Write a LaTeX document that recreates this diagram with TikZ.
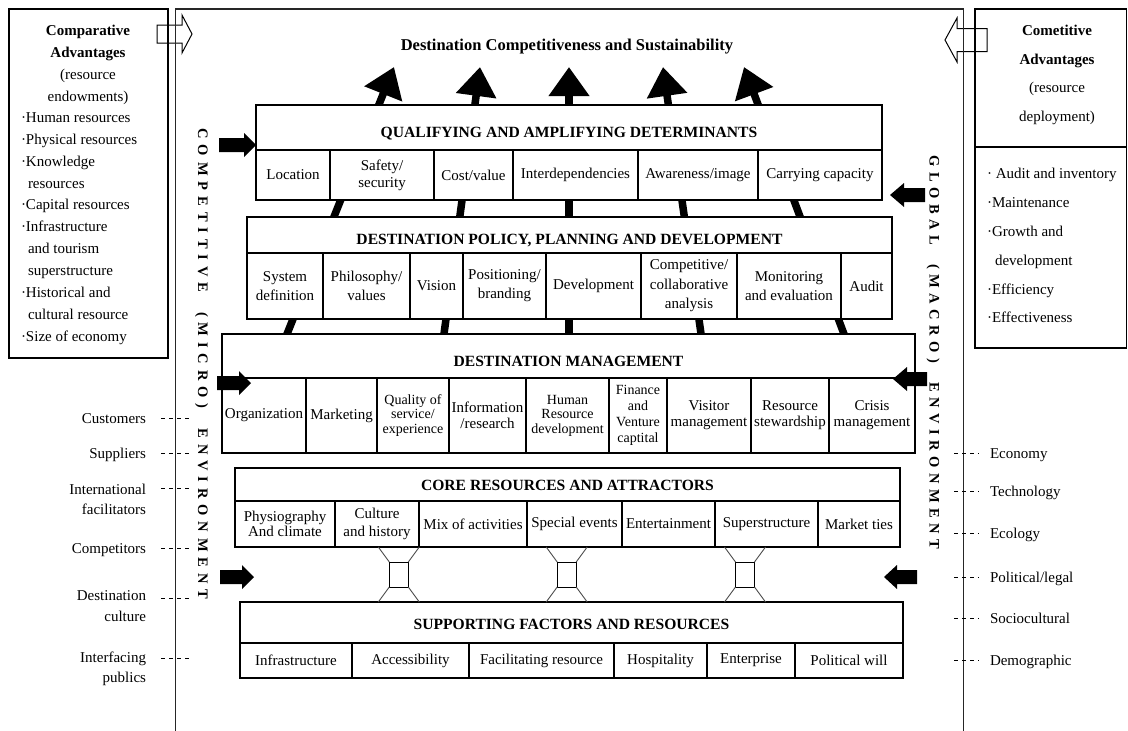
\documentclass[tikz,border=0pt]{standalone}
\usepackage{fontspec}
\setmainfont{Liberation Serif}
\usetikzlibrary{arrows.meta}
\makeatletter
% spreads a word letter by letter with a fixed kern between the letters
\newcommand\spreadletters[2]{\@tfor\sl@tok:=#2\do{\sl@tok\kern#1\relax}\unkern}
\makeatother
% one cell of a band: [extra style]{name}{x1}{x2}{y1}{y2}{text}
\newcommand\cellnode[7][]{%
  \node[cellbox,#1,minimum width={(#4)-(#3)},minimum height={(#6)-(#5)}]
    (#2) at ({((#3)+(#4))/2},{((#5)+(#6))/2}) {#7};}
% block arrow: {tip x}{tip y}{direction +1/-1}{length}{head length}{shaft half width}{head half width}{style}
\newcommand\blockarrow[8]{%
  \path[#8] (#1,#2) -- ++({0-(#3)*(#5)},{0-(#7)}) -- ++(0,{(#7)-(#6)})
    -- ++({0-(#3)*((#4)-(#5))},0) -- ++(0,{2*(#6)})
    -- ++({(#3)*((#4)-(#5))},0) -- ++(0,{(#7)-(#6)}) -- cycle;}

\begin{document}
\begin{tikzpicture}[x=1pt,y=-1pt,
  every node/.style={inner sep=0pt, outer sep=0pt},
  txt/.style={font=\fontsize{15}{18}\selectfont},
  cellbox/.style={draw, line width=1.1pt, fill=white, align=center,
    font=\fontsize{15}{17}\selectfont},
  bandtitle/.style={draw, line width=1.1pt, fill=white, text depth=0pt,
    font=\bfseries\fontsize{15.6}{18}\selectfont},
  sidebox/.style={draw, line width=1.1pt},
  framerule/.style={line width=1.5pt, draw=black!85},
  upshaft/.style={line width=7.5pt, -{Triangle[length=29pt,width=39pt]}},
  tick/.style={line width=0.9pt, dash pattern=on 4pt off 4pt},
  vtext/.style={rotate=-90, font=\bfseries\fontsize{14.5}{16}\selectfont},
  hourglass/.style={draw, line width=1pt, fill=white, minimum width=19pt, minimum height=25pt},
  flare/.style={line width=0.9pt, draw=black!70},
]
\useasboundingbox (0,0) rectangle (1128,731);

% hollow arrows from the advantage boxes into the model
\blockarrow{192}{34}{1}{35}{10}{9}{19}{draw=black, fill=white, line width=1pt}
\blockarrow{945}{40}{-1}{42}{12}{11.5}{22}{draw=black, fill=white, line width=1pt}

% environment frame
\draw[framerule] (175.5,731) -- (175.5,9) -- (963.5,9) -- (963.5,731);

% comparative advantages
\node[sidebox, minimum width=159, minimum height=349] (compadv) at (88.5,183.5) {};
\node[align=center, anchor=north, font=\fontsize{15}{21.8}\selectfont] (comphead) at (88,25.5)
  {\textbf{Comparative}\\\textbf{Advantages}\\(resource\\endowments)};
\node[align=left, anchor=north west, font=\fontsize{15}{21.9}\selectfont] (complist) at (21,112.5)
  {·Human resources\\·Physical resources\\·Knowledge\\\hspace*{7pt}resources\\·Capital resources\\%
   ·Infrastructure\\\hspace*{7pt}and tourism\\\hspace*{7pt}superstructure\\·Historical and\\%
   \hspace*{7pt}cultural resource\\·Size of economy};

% competitive advantages
\node[sidebox, minimum width=151.5, minimum height=138] (cometop) at (1050.75,78) {};
\node[sidebox, minimum width=151.5, minimum height=201] (comebot) at (1050.75,247.5) {};
\node[align=center, anchor=north, font=\fontsize{15}{28.4}\selectfont] (comehead) at (1057,25.5)
  {\textbf{Cometitive}\\\textbf{Advantages}\\(resource\\deployment)};
\node[align=left, anchor=north west, font=\fontsize{15}{28.8}\selectfont] (comelist) at (987,168.5)
  {· Audit and inventory\\·Maintenance\\·Growth and\\\hspace*{8pt}development\\·Efficiency\\·Effectiveness};

% goal
\node[font=\bfseries\fontsize{16.5}{18}\selectfont] (goal) at (567,47)
  {Destination Competitiveness and Sustainability};

% thick arrows rising through the model
\coordinate (r1) at (282.6,345); \coordinate (t1) at (394,67);
\coordinate (r2) at (442.5,345); \coordinate (t2) at (480,67);
\coordinate (r3) at (569,345);   \coordinate (t3) at (569,67);
\coordinate (r4) at (702.6,345); \coordinate (t4) at (663,67);
\coordinate (r5) at (848.1,345); \coordinate (t5) at (744,67);
\foreach \k in {1,...,5} \draw[upshaft] (r\k) -- (t\k);

% qualifying and amplifying determinants
\node[bandtitle, minimum width=626, minimum height=45, text height=20.3pt] (qtitle) at (569,127.5)
  {QUALIFYING AND AMPLIFYING DETERMINANTS};
\cellnode{qloc}{256}{330}{150}{200}{Location}
\cellnode{qsaf}{330}{434}{150}{200}{Safety/\\security}
\cellnode{qcost}{434}{513}{150}{200}{Cost/value}
\cellnode{qint}{513}{638}{150}{200}{Interdependencies}
\cellnode{qawa}{638}{758}{150}{200}{Awareness/image}
\cellnode{qcar}{758}{882}{150}{200}{Carrying capacity}

% destination policy, planning and development
\node[bandtitle, minimum width=645, minimum height=36, text height=19.3pt] (ptitle) at (569.5,235)
  {DESTINATION POLICY, PLANNING AND DEVELOPMENT};
\cellnode[font=\fontsize{15}{19}\selectfont]{psys}{247}{323}{253}{319}{System\\definition}
\cellnode[font=\fontsize{15}{19}\selectfont]{pphil}{323}{410}{253}{319}{Philosophy/\\values}
\cellnode{pvis}{410}{463}{253}{319}{Vision}
\cellnode[font=\fontsize{15}{19}\selectfont]{ppos}{463}{546}{253}{319}{Positioning/\\branding}
\cellnode{pdev}{546}{641}{253}{319}{Development}
\cellnode[font=\fontsize{15}{19.5}\selectfont]{pcomp}{641}{737}{253}{319}{Competitive/\\collaborative\\analysis}
\cellnode[font=\fontsize{15}{19}\selectfont]{pmon}{737}{841}{253}{319}{Monitoring\\and evaluation}
\cellnode{paud}{841}{892}{253}{319}{Audit}

% destination management
\node[bandtitle, minimum width=693, minimum height=44, text height=20.3pt] (mtitle) at (568.5,356)
  {DESTINATION MANAGEMENT};
\cellnode{morg}{222}{306}{378}{453}{Organization}
\cellnode{mmar}{306}{377}{378}{453}{Marketing}
\cellnode[font=\fontsize{14}{14.5}\selectfont]{mqual}{377}{449}{378}{453}{Quality of\\service/\\experience}
\cellnode[font=\fontsize{15}{16.5}\selectfont]{minfo}{449}{526}{378}{453}{Information\\/research}
\cellnode[font=\fontsize{14}{14.5}\selectfont]{mhum}{526}{609}{378}{453}{Human\\Resource\\development}
\cellnode[font=\fontsize{14}{16}\selectfont]{mfin}{609}{667}{378}{453}{Finance\\and\\Venture\\captital}
\cellnode[font=\fontsize{15}{16}\selectfont]{mvis}{667}{751}{378}{453}{Visitor\\management}
\cellnode[font=\fontsize{15}{16}\selectfont]{mres}{751}{829}{378}{453}{Resource\\stewardship}
\cellnode[font=\fontsize{15}{16}\selectfont]{mcri}{829}{915}{378}{453}{Crisis\\management}

% core resources and attractors
\node[bandtitle, minimum width=665, minimum height=33, text height=11.3pt] (ctitle) at (567.5,484.5)
  {CORE RESOURCES AND ATTRACTORS};
\cellnode[font=\fontsize{15}{15}\selectfont]{cphy}{235}{335}{501}{547}{Physiography\\And climate}
\cellnode[font=\fontsize{15}{17.5}\selectfont]{ccul}{335}{419}{501}{547}{Culture\\and history}
\cellnode{cmix}{419}{527}{501}{547}{Mix of activities}
\cellnode{cspe}{527}{622}{501}{547}{Special events}
\cellnode{cent}{622}{715}{501}{547}{Entertainment}
\cellnode{csup}{715}{818}{501}{547}{Superstructure}
\cellnode{cmar}{818}{900}{501}{547}{Market ties}

% supporting factors and resources
\node[bandtitle, minimum width=663, minimum height=41, text height=13.3pt] (stitle) at (571.5,622.5)
  {SUPPORTING FACTORS AND RESOURCES};
\cellnode{sinf}{240}{352}{643}{678}{Infrastructure}
\cellnode{sacc}{352}{469}{643}{678}{Accessibility}
\cellnode{sfac}{469}{614}{643}{678}{Facilitating resource}
\cellnode{shos}{614}{707}{643}{678}{Hospitality}
\cellnode{sent}{707}{795}{643}{678}{Enterprise}
\cellnode{spol}{795}{903}{643}{678}{Political will}

% links between core resources and supporting factors
\foreach \n/\cx in {hg1/398.8, hg2/566.7, hg3/745} {
  \node[hourglass] (\n) at (\cx,574.5) {};
  \draw[flare] (\n.north west) -- ++(-11,-15);
  \draw[flare] (\n.north east) -- ++(11,-15);
  \draw[flare] (\n.south west) -- ++(-11,15);
  \draw[flare] (\n.south east) -- ++(11,15);
}

% pressures from the environments
\blockarrow{256}{145}{1}{37}{12}{7}{12}{fill=black}
\blockarrow{251}{383}{1}{34}{12}{7}{12}{fill=black}
\blockarrow{254}{577}{1}{34}{12}{7}{12}{fill=black}
\blockarrow{890}{195}{-1}{35}{14}{7}{12}{fill=black}
\blockarrow{893}{379}{-1}{34}{14}{7}{12}{fill=black}
\blockarrow{884}{577}{-1}{33}{13}{7}{12}{fill=black}

% environment captions
\node[vtext] (microenv) at (201.5,364)
  {\spreadletters{5.9pt}{COMPETITIVE{\hspace{8pt}}(MICRO){\hspace{8pt}}ENVIRONMENT}};
\node[vtext] (macroenv) at (933,352.5)
  {\spreadletters{5.5pt}{GLOBAL{\hspace{8pt}}(MACRO){\hspace{8pt}}ENVIRONMENT}};

% micro environment actors
\node[txt, anchor=base east] (cust) at (146,423) {Customers};
\node[txt, anchor=base east] (supp) at (146,458) {Suppliers};
\node[align=right, anchor=north east, font=\fontsize{15}{20.5}\selectfont] (intl) at (146,483.7) {International\\facilitators};
\node[txt, anchor=base east] (compet) at (146,553) {Competitors};
\node[align=right, anchor=north east, font=\fontsize{15}{20.5}\selectfont] (dcult) at (146,590.7) {Destination\\culture};
\node[align=right, anchor=north east, font=\fontsize{15}{20.5}\selectfont] (ipub) at (146,651.7) {Interfacing\\publics};
\foreach \y in {418,453,488,548,598,658} \draw[tick] (161,\y) -- (189,\y);

% macro environment forces
\node[txt, anchor=base west] (econ) at (990,458) {Economy};
\node[txt, anchor=base west] (tech) at (990,496) {Technology};
\node[txt, anchor=base west] (ecol) at (990,538) {Ecology};
\node[txt, anchor=base west] (poli) at (990,582) {Political/legal};
\node[txt, anchor=base west] (soci) at (990,623) {Sociocultural};
\node[txt, anchor=base west] (demo) at (990,665) {Demographic};
\foreach \y in {453,491,533,577,618,660} \draw[tick] (954,\y) -- (979,\y);
\end{tikzpicture}
\end{document}
